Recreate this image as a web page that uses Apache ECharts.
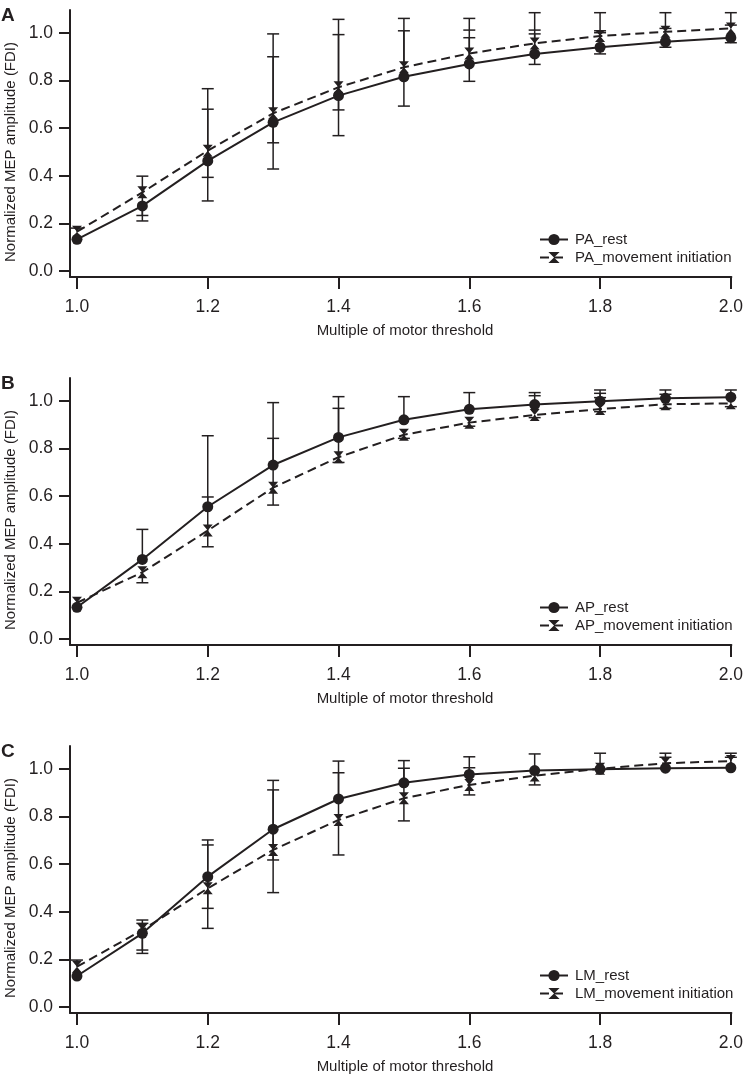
<!DOCTYPE html>
<html>
<head>
<meta charset="utf-8">
<script src="https://cdn.jsdelivr.net/npm/echarts@6/dist/echarts.min.js"></script>
<style>
html,body{margin:0;padding:0;background:#fff;}
#chart{width:746px;height:1078px;}
</style>
</head>
<body>
<div id="chart"></div>
<script>
// ---- data ----
const xs = [1.0, 1.1, 1.2, 1.3, 1.4, 1.5, 1.6, 1.7, 1.8, 1.9, 2.0];
const xTicks = [1.0, 1.2, 1.4, 1.6, 1.8, 2.0];
const yTicks = [0.0, 0.2, 0.4, 0.6, 0.8, 1.0];
const panelLetters = ['A', 'B', 'C'];
const xTitle = 'Multiple of motor threshold';
const yTitle = 'Normalized MEP amplitude (FDI)';
const restNames = ['PA_rest', 'AP_rest', 'LM_rest'];
const moveNames = ['PA_movement initiation', 'AP_movement initiation', 'LM_movement initiation'];

// Panel A (PA)
const paRest     = [0.133, 0.273, 0.462, 0.624, 0.736, 0.815, 0.869, 0.911, 0.939, 0.962, 0.979];
const paRestLow  = [null, 0.210, 0.393, 0.538, 0.676, 0.692, 0.796, 0.867, 0.911, 0.939, 0.958];
const paRestHigh = [null, null, 0.679, 0.899, 0.992, 1.008, 0.979, 0.995, 1.000, null, null];
const paMove     = [0.165, 0.330, 0.505, 0.662, 0.771, 0.855, 0.913, 0.955, 0.986, 1.004, 1.018];
const paMoveLow  = [null, 0.233, 0.294, 0.428, 0.568, null, 1.011, 1.011, 1.008, 1.018, 1.032];
const paMoveHigh = [0.180, 0.398, 0.765, 0.995, 1.056, 1.060, 1.060, 1.084, 1.084, 1.084, 1.084];

// Panel B (AP)
const apRest     = [0.133, 0.334, 0.555, 0.730, 0.846, 0.920, 0.964, 0.984, 0.998, 1.010, 1.015];
const apRestLow  = [null, null, null, null, null, null, null, 1.021, 1.013, 1.027, null];
const apRestHigh = [null, 0.460, 0.853, 0.992, 1.017, 1.017, 1.034, 1.034, 1.045, 1.045, 1.045];
const apMove     = [0.152, 0.280, 0.455, 0.635, 0.763, 0.857, 0.908, 0.940, 0.965, 0.985, 0.989];
const apMoveLow  = [null, 0.236, 0.387, 0.562, 0.741, 0.842, 0.893, 0.929, 0.954, 0.968, 0.975];
const apMoveHigh = [null, null, 0.596, 0.842, 0.968, null, null, null, 1.031, null, null];

// Panel C (LM)
const lmRest     = [0.130, 0.309, 0.547, 0.746, 0.873, 0.941, 0.976, 0.992, 0.998, 1.002, 1.004];
const lmRestLow  = [null, 0.225, 0.414, 0.617, null, null, null, null, null, null, null];
const lmRestHigh = [null, 0.351, 0.701, 0.951, 1.032, 1.034, 1.050, 1.062, 1.065, 1.048, 1.048];
const lmMove     = [0.169, 0.323, 0.498, 0.659, 0.785, 0.876, 0.932, 0.971, 1.000, 1.023, 1.032];
const lmMoveLow  = [null, 0.239, 0.330, 0.480, 0.638, 0.781, 0.890, 0.932, null, null, null];
const lmMoveHigh = [0.197, 0.365, 0.680, 0.911, 0.983, 1.002, 1.004, null, null, 1.065, 1.065];

const panels = [
  {rest: paRest, restLow: paRestLow, restHigh: paRestHigh, move: paMove, moveLow: paMoveLow, moveHigh: paMoveHigh},
  {rest: apRest, restLow: apRestLow, restHigh: apRestHigh, move: apMove, moveLow: apMoveLow, moveHigh: apMoveHigh},
  {rest: lmRest, restLow: lmRestLow, restHigh: lmRestHigh, move: lmMove, moveLow: lmMoveLow, moveHigh: lmMoveHigh}
];

// ---- layout / style ----
const INK = '#231f20';
const FONT = '"Liberation Sans", Arial, Helvetica, sans-serif';
const PANEL_STEP = 368;
const GRID_TOP = 10, GRID_H = 267, GRID_LEFT = 70, GRID_W = 664;
const X_MIN = 0.98934, X_MAX = 2.0008;
const Y_MIN = -0.0252, Y_MAX = 1.0953;
const HOURGLASS = 'path://M0,0 L10,0 L0,12 L10,12 Z';

const chart = echarts.init(document.getElementById('chart'), null, {renderer: 'canvas'});

const grids = [], xAxes = [], yAxes = [], series = [], legends = [], graphics = [];

function errRenderer(vals, lows, highs) {
  return function (params, api) {
    const i = params.dataIndex;
    const x = api.value(0);
    const v = vals[i];
    const caps = [lows[i], highs[i]].filter(c => c !== null && c !== undefined);
    if (!caps.length) return null;
    const all = caps.concat([v]);
    const lo = Math.min.apply(null, all), hi = Math.max.apply(null, all);
    const p1 = api.coord([x, lo]), p2 = api.coord([x, hi]);
    const children = [{
      type: 'line', shape: {x1: p1[0], y1: p1[1], x2: p2[0], y2: p2[1]},
      style: {stroke: INK, lineWidth: 1.5}
    }];
    caps.forEach(c => {
      const p = api.coord([x, c]);
      children.push({
        type: 'line', shape: {x1: p[0] - 6, y1: p[1], x2: p[0] + 6, y2: p[1]},
        style: {stroke: INK, lineWidth: 1.5}
      });
    });
    return {type: 'group', children: children};
  };
}

panels.forEach((pd, k) => {
  const top = GRID_TOP + k * PANEL_STEP;
  grids.push({left: GRID_LEFT, top: top, width: GRID_W, height: GRID_H});
  xAxes.push({
    type: 'value', gridIndex: k, min: X_MIN, max: X_MAX,
    axisLine: {show: true, onZero: false, lineStyle: {color: INK, width: 2}},
    axisTick: {show: true, length: 12, lineStyle: {color: INK, width: 2}, customValues: xTicks},
    axisLabel: {show: true, customValues: xTicks, margin: 21, color: INK, fontSize: 17.5, fontFamily: FONT,
      formatter: v => Number(v).toFixed(1)},
    splitLine: {show: false}
  });
  yAxes.push({
    type: 'value', gridIndex: k, min: Y_MIN, max: Y_MAX,
    axisLine: {show: true, onZero: false, lineStyle: {color: INK, width: 2}},
    axisTick: {show: true, length: 11, lineStyle: {color: INK, width: 2}, customValues: yTicks},
    axisLabel: {show: true, customValues: yTicks, margin: 17, color: INK, fontSize: 17.5, fontFamily: FONT,
      formatter: v => Number(v).toFixed(1)},
    splitLine: {show: false}
  });

  series.push({
    type: 'custom', name: 'err_rest_' + k, xAxisIndex: k, yAxisIndex: k, z: 2,
    data: xs.map((x, i) => [x, pd.rest[i]]),
    renderItem: errRenderer(pd.rest, pd.restLow, pd.restHigh), silent: true
  });
  series.push({
    type: 'custom', name: 'err_move_' + k, xAxisIndex: k, yAxisIndex: k, z: 2,
    data: xs.map((x, i) => [x, pd.move[i]]),
    renderItem: errRenderer(pd.move, pd.moveLow, pd.moveHigh), silent: true
  });
  series.push({
    type: 'line', name: moveNames[k], xAxisIndex: k, yAxisIndex: k, z: 3,
    data: xs.map((x, i) => [x, pd.move[i]]),
    symbol: HOURGLASS, symbolSize: [10, 12], showAllSymbol: true,
    lineStyle: {color: INK, width: 2, type: [9, 5]},
    itemStyle: {color: INK, borderWidth: 0},
    animation: false
  });
  series.push({
    type: 'line', name: restNames[k], xAxisIndex: k, yAxisIndex: k, z: 4,
    data: xs.map((x, i) => [x, pd.rest[i]]),
    symbol: 'circle', symbolSize: 11, showAllSymbol: true,
    lineStyle: {color: INK, width: 2},
    itemStyle: {color: INK, borderWidth: 0},
    animation: false
  });

  legends.push({
    orient: 'vertical', left: 539, top: 232 + k * PANEL_STEP, padding: 0,
    itemWidth: 28, itemHeight: 14, itemGap: 3,
    data: [restNames[k], moveNames[k]],
    textStyle: {color: INK, fontSize: 15, fontFamily: FONT, padding: [0, 0, 0, 2]},
    selectedMode: false
  });

  graphics.push({
    type: 'text', left: 1, top: 6 + k * PANEL_STEP,
    style: {text: panelLetters[k], fill: INK, font: 'bold 19px ' + FONT}
  });
  graphics.push({
    type: 'text', x: 11, y: 152 + k * PANEL_STEP, rotation: Math.PI / 2,
    style: {text: yTitle, fill: INK, font: '15px ' + FONT, textAlign: 'center', textVerticalAlign: 'middle'}
  });
  graphics.push({
    type: 'text', x: 405, y: 331 + k * PANEL_STEP,
    style: {text: xTitle, fill: INK, font: '15px ' + FONT, textAlign: 'center', textVerticalAlign: 'middle'}
  });
});

chart.setOption({
  animation: false,
  backgroundColor: '#ffffff',
  grid: grids,
  xAxis: xAxes,
  yAxis: yAxes,
  legend: legends,
  series: series,
  graphic: graphics
});
</script>
</body>
</html>
